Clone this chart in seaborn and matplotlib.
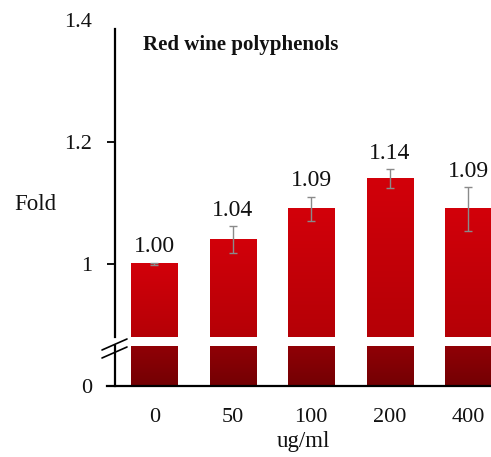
import numpy as np
import matplotlib
matplotlib.use("Agg")
import matplotlib.pyplot as plt
import seaborn as sns

doses = ["0", "50", "100", "200", "400"]
fold = [1.00, 1.04, 1.09, 1.14, 1.09]
err = [0.002, 0.022, 0.02, 0.015, 0.036]
labels = ["1.00", "1.04", "1.09", "1.14", "1.09"]

sns.set_style("white")
plt.rcParams["font.family"] = ["Liberation Serif", "DejaVu Serif"]
plt.rcParams["text.color"] = "#111111"
plt.rcParams["xtick.color"] = "#111111"
plt.rcParams["ytick.color"] = "#111111"

W, H = 491, 457
fig = plt.figure(figsize=(W / 100, H / 100), dpi=100)

def box(x0, y0, x1, y1):
    # pixel box (top-left origin) -> figure fraction rect
    return [x0 / W, 1 - y1 / H, (x1 - x0) / W, (y1 - y0) / H]

ax_top = fig.add_axes(box(115, 20, 491, 337))
ax_bot = fig.add_axes(box(115, 346, 491, 386))

for ax in (ax_top, ax_bot):
    sns.barplot(x=doses, y=fold, ax=ax, errorbar=None, width=0.59,
                color="#c00008", saturation=1, linewidth=0)
    for s in ["top", "right"]:
        ax.spines[s].set_visible(False)
    ax.spines["left"].set_linewidth(1.6)
    ax.spines["left"].set_color("black")

# gradient fill for the bars, limited to the visible y range
def shade(ax, ylim, c_top, c_bot):
    grad = np.linspace(0, 1, 64)[:, None, None]
    c_top = np.array(matplotlib.colors.to_rgb(c_top))
    c_bot = np.array(matplotlib.colors.to_rgb(c_bot))
    img = c_top * (1 - grad) + c_bot * grad
    img = np.repeat(img, 8, axis=1)
    for p in ax.patches:
        x0, w = p.get_x(), p.get_width()
        y_lo = max(p.get_y(), ylim[0])
        y_hi = min(p.get_y() + p.get_height(), ylim[1])
        p.set_alpha(0)
        ax.imshow(img, extent=[x0, x0 + w, y_lo, y_hi], aspect="auto",
                  origin="upper", zorder=2)
    ax.set_ylim(*ylim)
    ax.set_xlim(-0.5, 4.29)

shade(ax_top, (0.88, 1.4), "#d2000a", "#b50006")
shade(ax_bot, (0, 0.1), "#900006", "#730003")

ax_top.errorbar(x=np.arange(len(doses)), y=fold, yerr=err, fmt="none",
                ecolor="#8a8a8a", elinewidth=1, capsize=3, zorder=3)
for i, (v, e, t) in enumerate(zip(fold, err, labels)):
    ax_top.text(i, v + e + 0.009, t, ha="center", va="bottom", fontsize=17)

ax_top.spines["bottom"].set_visible(False)
ax_top.spines["left"].set_bounds(0.88, 1.385)
ax_top.set_xticks([])
ax_top.set_yticks([1.0, 1.2, 1.4])
ax_top.set_yticklabels(["1", "1.2", "1.4"], fontsize=16)
ax_top.tick_params(axis="y", left=True, length=6, width=1.4, pad=10.5, colors="#111111")
ax_top.yaxis.get_major_ticks()[2].tick1line.set_visible(False)

ax_bot.spines["bottom"].set_linewidth(1.6)
ax_bot.spines["bottom"].set_color("black")
ax_bot.spines["bottom"].set_bounds(-0.6, 4.29)
ax_bot.set_xticks(range(len(doses)))
ax_bot.set_xticklabels(doses)
ax_bot.set_yticks([0])
ax_bot.set_yticklabels(["0"], fontsize=16)
ax_bot.tick_params(axis="y", left=False, pad=13)
ax_bot.tick_params(axis="x", bottom=False, pad=12, labelsize=16)
ax_bot.set_xlabel("")
ax_bot.set_ylabel("")
ax_top.set_ylabel("")

ax_top.text(28 / 376, 1 - 25 / 317, "Red wine polyphenols", transform=ax_top.transAxes,
            fontsize=15, fontweight="bold", ha="left", va="center", zorder=5)

# axis break marks
for dy in (0, 8):
    fig.add_artist(plt.Line2D([102 / W, 127 / W],
                              [1 - (350 + dy) / H, 1 - (339 + dy) / H],
                              color="black", lw=1.2))

fig.text(35 / W, 1 - 205 / H, "Fold", fontsize=16.5, ha="center", va="center")
fig.text(303 / W, 1 - 441 / H, "ug/ml", fontsize=16.5, ha="center", va="center")

fig.savefig("out.png", dpi=100)
